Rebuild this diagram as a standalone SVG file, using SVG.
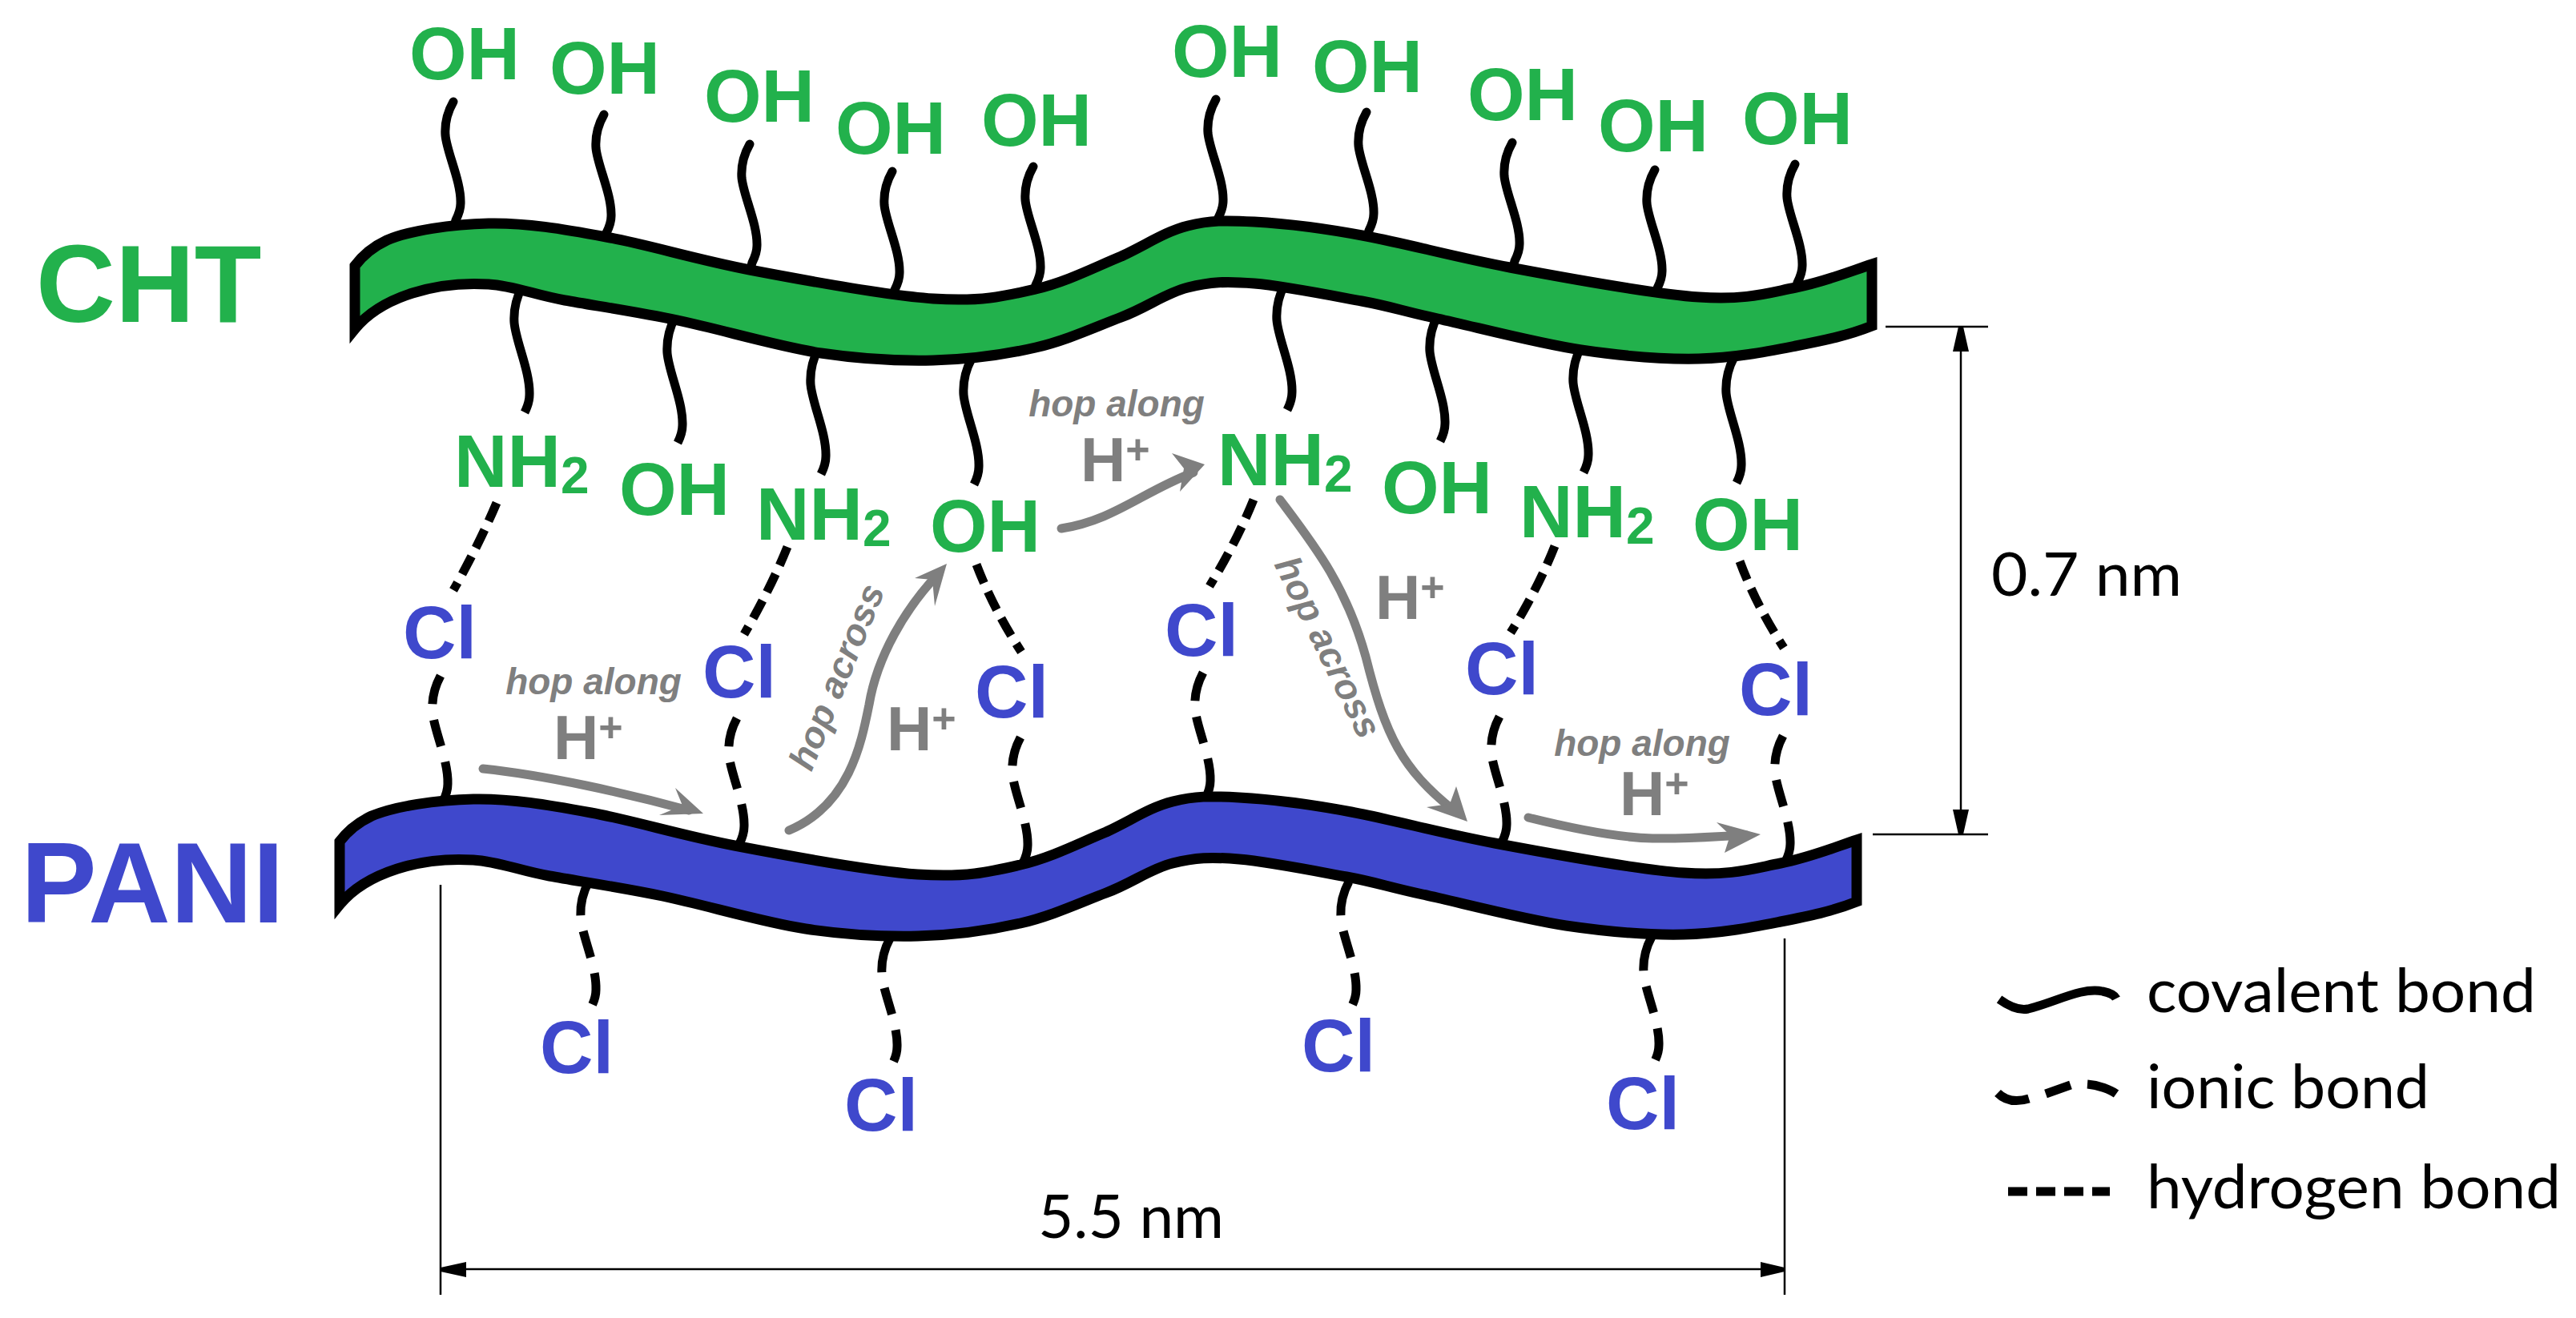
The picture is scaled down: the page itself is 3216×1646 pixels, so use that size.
<svg xmlns="http://www.w3.org/2000/svg" width="3216" height="1646" viewBox="0 0 3216 1646">
<style>
.g{fill:#22b14c}.b{fill:#3f48cc}
.t{font-family:"Liberation Sans",Arial,sans-serif;font-weight:700;font-size:92px}
.sub{font-size:64px}
.big{font-size:137px}
.hop{font-family:"Liberation Sans",Arial,sans-serif;font-weight:700;font-style:italic;font-size:46px;fill:#7f7f7f}
.hp{font-family:"Liberation Sans",Arial,sans-serif;font-weight:700;font-size:78px;fill:#7f7f7f}
.hp tspan{font-size:52px}
.lbl{font-family:Lato,"Open Sans",sans-serif;font-size:76px;fill:#000}
.band{stroke:#000;stroke-width:13;stroke-linejoin:miter;stroke-miterlimit:10}
.bond{fill:none;stroke:#000;stroke-width:11;stroke-linecap:butt}
.rc{stroke-linecap:round}
.ion{stroke-dasharray:37 20 34 20 60}
.ion2{stroke-dasharray:44 20 34 20 40}
.hb{fill:none;stroke:#000;stroke-width:11;stroke-dasharray:25 12}
.ar{fill:none;stroke:#7f7f7f;stroke-width:11;stroke-linecap:round}
.ah{fill:#7f7f7f}
.dim{fill:none;stroke:#000;stroke-width:2.5}
.leg{fill:none;stroke:#000;stroke-width:11}
</style>
<defs>
<path id="sq" d="m0,0 c-8,14 -11,27 -10,42 c2,22 20,58 19,85 c0,9 -3,15 -6,21 l-2,8"/>
<path id="sq2" d="m0,0 c-8,15 -11,29 -10,45 c2,24 20,61 19,90 c0,9 -3,16 -6,22"/>
<path id="wave" d="M443,332 C455,316 468,307 483,300 C511,288 564,280 610,279 C656,278 703,286 757,296 C811,306 868,324 936,337 C1004,350 1105,369 1165,373 C1225,377 1254,370 1293,361 C1332,352 1368,333 1400,320 C1432,305 1455,289 1483,282 C1511,275 1529,275 1566,277 C1603,279 1653,285 1706,295 C1759,305 1816,321 1885,334 C1954,347 2061,367 2121,371 C2181,375 2206,366 2242,359 C2278,352 2307,340 2337,330 L2337,407 C2307,419 2278,425 2242,432 C2206,439 2166,447 2121,448 C2076,449 2028,445 1974,437 C1920,429 1841,408 1795,398 C1749,388 1738,383 1700,376 C1662,369 1602,357 1566,354 C1530,351 1511,352 1483,359 C1455,366 1432,384 1400,396 C1368,408 1332,425 1293,434 C1254,443 1210,449 1165,450 C1120,451 1078,449 1025,441 C972,433 899,411 846,400 C793,389 744,382 705,375 C666,368 642,357 610,355 C578,353 543,357 515,366 C487,375 460,390 443,411 Z"/>
</defs>
<rect width="3216" height="1646" fill="#fff"/>
<g id="connectors">
<g class="bond rc">
<use href="#sq" x="566" y="127"/><use href="#sq" x="754" y="143"/><use href="#sq" x="936" y="180"/><use href="#sq" x="1114" y="214"/><use href="#sq" x="1290" y="208"/>
<use href="#sq" x="1518" y="124"/><use href="#sq" x="1706" y="140"/><use href="#sq" x="1888" y="178"/><use href="#sq" x="2066" y="212"/><use href="#sq" x="2241" y="205"/>
</g>
<g class="bond">
<use href="#sq2" x="652" y="358"/><use href="#sq2" x="843" y="396"/><use href="#sq2" x="1022" y="435"/><use href="#sq2" x="1213" y="448"/>
<use href="#sq2" x="1604" y="355"/><use href="#sq2" x="1795" y="394"/><use href="#sq2" x="1974" y="433"/><use href="#sq2" x="2165" y="446"/>
</g>
<g class="bond ion">
<use href="#sq2" x="550" y="844"/><use href="#sq2" x="920" y="897"/><use href="#sq2" x="1274" y="921"/><use href="#sq2" x="1502" y="840"/><use href="#sq2" x="1872" y="895"/><use href="#sq2" x="2226" y="919"/>
</g>
<g class="bond ion2">
<use href="#sq2" x="735" y="1101"/><use href="#sq2" x="1111" y="1172"/><use href="#sq2" x="1684" y="1101"/><use href="#sq2" x="2062" y="1170"/>
</g>
<g class="hb">
<path d="M620,628 Q598,680 566,737"/><path d="M983,683 Q962,735 929,792"/><path d="M1219,705 Q1240,760 1275,814"/>
<path d="M1565,624 Q1544,676 1510,732"/><path d="M1941,682 Q1920,735 1886,790"/><path d="M2172,701 Q2192,755 2227,809"/>
</g>
<g>
<path class="ar" d="M603,960 C680,968 780,990 860,1012"/><path class="ah" d="M878,1016 L843,984 L852,1006 L823,1018 Z"/>
<path class="ar" d="M985,1037 C1060,1005 1075,930 1085,880 C1095,820 1130,760 1172,716"/><path class="ah" d="M1182,704 L1142,722 L1164,724 L1167,757 Z"/>
<path class="ar" d="M1325,660 C1390,650 1425,615 1490,590"/><path class="ah" d="M1504,580 L1463,566 L1478,585 L1473,614 Z"/>
<path class="ar" d="M1598,624 C1640,680 1680,730 1705,820 C1730,920 1750,960 1815,1012"/><path class="ah" d="M1832,1026 L1818,982 L1810,1004 L1781,1008 Z"/>
<path class="ar" d="M1908,1021 C1960,1034 2020,1046 2063,1047 C2110,1048 2150,1044 2180,1043"/><path class="ah" d="M2198,1042 L2143,1027 L2160,1043 L2153,1065 Z"/>
</g>
<path class="dim" d="M550,1105V1617M2228,1172V1617M565,1585H2214M2354,408H2482M2338,1042H2482M2448,422V1028"/>
<path d="M550,1583L582,1576V1595L550,1588ZM2228,1583L2198,1576V1595L2228,1588ZM2445,408H2451L2458,439H2438ZM2445,1042H2451L2458,1011H2438Z" fill="#000"/>
</g>
<g id="cht-chain"><use href="#wave" class="band g"/></g>
<g id="pani-chain" transform="translate(-19,719)"><use href="#wave" class="band b"/></g>
<g id="oh-labels" class="t g">
<text x="580" y="99" text-anchor="middle">OH</text><text x="755" y="117" text-anchor="middle">OH</text><text x="948" y="152" text-anchor="middle">OH</text><text x="1112" y="192" text-anchor="middle">OH</text><text x="1294" y="182" text-anchor="middle">OH</text>
<text x="1532" y="96" text-anchor="middle">OH</text><text x="1707" y="115" text-anchor="middle">OH</text><text x="1901" y="150" text-anchor="middle">OH</text><text x="2064" y="189" text-anchor="middle">OH</text><text x="2244" y="180" text-anchor="middle">OH</text>
<text x="842" y="643" text-anchor="middle">OH</text><text x="1230" y="689" text-anchor="middle">OH</text><text x="1794" y="641" text-anchor="middle">OH</text><text x="2182" y="687" text-anchor="middle">OH</text>
</g>
<g id="nh2-labels" class="t g">
<text x="567" y="608">NH<tspan class="sub" dy="8">2</tspan></text>
<text x="944" y="674">NH<tspan class="sub" dy="8">2</tspan></text>
<text x="1520" y="606">NH<tspan class="sub" dy="8">2</tspan></text>
<text x="1897" y="671">NH<tspan class="sub" dy="8">2</tspan></text>
</g>
<g id="cl-labels" class="t b">
<text x="549" y="822" text-anchor="middle">Cl</text><text x="923" y="871" text-anchor="middle">Cl</text><text x="1263" y="896" text-anchor="middle">Cl</text><text x="1500" y="819" text-anchor="middle">Cl</text><text x="1875" y="867" text-anchor="middle">Cl</text><text x="2217" y="893" text-anchor="middle">Cl</text>
<text x="720" y="1340" text-anchor="middle">Cl</text><text x="1100" y="1412" text-anchor="middle">Cl</text><text x="1671" y="1338" text-anchor="middle">Cl</text><text x="2051" y="1410" text-anchor="middle">Cl</text>
</g>
<g id="title-cht"><text class="t big g" x="45" y="402">CHT</text></g>
<g id="title-pani"><text class="t b" x="26" y="1152" style="font-size:142px">PANI</text></g>
<g id="hop-labels">
<text class="hop" x="741" y="867" text-anchor="middle">hop along</text>
<text class="hop" x="1394" y="520" text-anchor="middle">hop along</text>
<text class="hop" x="2050" y="944" text-anchor="middle">hop along</text>
<text class="hop" transform="translate(1059,851) rotate(-68)" text-anchor="middle">hop across</text>
<text class="hop" transform="translate(1644,815) rotate(64)" text-anchor="middle">hop across</text>
</g>
<g id="proton-labels">
<text class="hp" x="691" y="948">H<tspan dy="-22">+</tspan></text>
<text class="hp" x="1107" y="937">H<tspan dy="-22">+</tspan></text>
<text class="hp" x="1349" y="601">H<tspan dy="-22">+</tspan></text>
<text class="hp" x="1717" y="773">H<tspan dy="-22">+</tspan></text>
<text class="hp" x="2022" y="1018">H<tspan dy="-22">+</tspan></text>
</g>
<g id="dim-labels">
<text class="lbl" x="1296" y="1546" textLength="232" lengthAdjust="spacingAndGlyphs">5.5 nm</text>
<text class="lbl" x="2486" y="744" textLength="238" lengthAdjust="spacingAndGlyphs">0.7 nm</text>
</g>
<g id="legend">
<path class="leg" d="M2496,1248 C2510,1258 2522,1262 2532,1260 C2565,1252 2600,1232 2625,1238 C2635,1240 2640,1243 2642,1247"/>
<path class="leg" d="M2494,1365 C2505,1376 2520,1376 2533,1372"/>
<path class="leg" d="M2554,1366 L2585,1355"/>
<path class="leg" d="M2606,1354 C2620,1355 2635,1361 2642,1366"/>
<path class="leg" d="M2507,1488 H2634" stroke-dasharray="24 11"/>
<text class="lbl" x="2680" y="1264" textLength="486" lengthAdjust="spacingAndGlyphs">covalent bond</text>
<text class="lbl" x="2680" y="1384" textLength="353" lengthAdjust="spacingAndGlyphs">ionic bond</text>
<text class="lbl" x="2680" y="1509" textLength="517" lengthAdjust="spacingAndGlyphs">hydrogen bond</text>
</g>
</svg>
